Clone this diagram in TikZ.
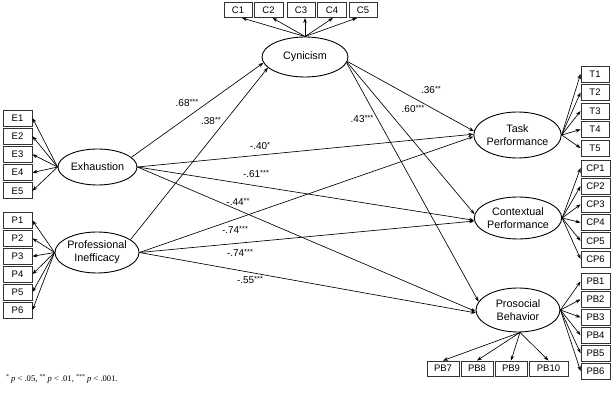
\documentclass[tikz,border=0pt]{standalone}
\usepackage{fontspec}
\setmainfont{Liberation Sans}
\newfontfamily\footserif{Liberation Serif}
\usetikzlibrary{shapes.geometric,arrows.meta,calc}
\newcommand\sig[1]{\raisebox{1.6pt}{\fontsize{7.5pt}{7.5pt}\selectfont #1}}
\begin{document}
\begin{tikzpicture}[x=1pt,y=-1pt,
  lat/.style={draw,line width=0.9pt,ellipse,inner sep=0pt,align=center,
    font=\fontsize{10.8pt}{13pt}\selectfont},
  obs/.style={draw=black!80,line width=0.9pt,rectangle,inner sep=0pt,
    minimum width=29pt,minimum height=16pt,font=\fontsize{9.5pt}{10pt}\selectfont},
  arr/.style={line width=0.65pt,-{Stealth[length=5pt,width=3.6pt]}},
  lbl/.style={inner sep=0pt,font=\fontsize{10pt}{11pt}\selectfont}]
\useasboundingbox (0,0) rectangle (616,403);
% latent variables
\node[lat,minimum width=86pt,minimum height=40pt] (cyn) at (305,57) {Cynicism};
\node[lat,minimum width=79pt,minimum height=36pt] (exh) at (97.5,167) {Exhaustion};
\node[lat,minimum width=80pt,minimum height=41pt] (pin) at (97,252.5) {Professional\\Inefficacy};
\node[lat,minimum width=85pt,minimum height=46pt] (task) at (517.5,135) {Task\\Performance};
\node[lat,minimum width=84pt,minimum height=42pt] (ctx) at (518,218) {Contextual\\Performance};
\node[lat,minimum width=84pt,minimum height=44pt] (pro) at (518,310) {Prosocial\\Behavior};
% C boxes
\node[obs,minimum width=28pt,minimum height=15pt] (C1) at (238,10) {C1};
\node[obs,minimum width=29pt,minimum height=15pt] (C2) at (268.5,10) {C2};
\node[obs,minimum width=28pt,minimum height=15pt] (C3) at (301,10) {C3};
\node[obs,minimum width=29pt,minimum height=15pt] (C4) at (332,10) {C4};
\node[obs,minimum width=28pt,minimum height=15pt] (C5) at (363,10) {C5};
\draw[arr] (cyn.north) -- ([xshift=4pt]C1.south);
\draw[arr] (cyn.north) -- ([xshift=4pt]C2.south);
\draw[arr] (cyn.north) -- ([xshift=4pt]C3.south);
\draw[arr] (cyn.north) -- ([xshift=1pt]C4.south);
\draw[arr] (cyn.north) -- ([xshift=-6pt]C5.south);
% E boxes
\foreach \i in {1,...,5}{
  \node[obs] (E\i) at (17.5,{118+18.2*(\i-1)}) {E\i};
  \draw[arr] (exh.west) -- (E\i.east);
}
% P boxes
\foreach \i in {1,...,6}{
  \node[obs] (P\i) at (17.5,{220.5+17.9*(\i-1)}) {P\i};
  \draw[arr] (pin.west) -- (P\i.east);
}
% T boxes
\foreach \i in {1,...,5}{
  \node[obs,minimum width=28pt] (T\i) at (595,{74+18.5*(\i-1)}) {T\i};
  \draw[arr] (task.east) -- (T\i.west);
}
% CP boxes
\foreach \i in {1,...,6}{
  \node[obs] (CP\i) at (595.5,{168+18.2*(\i-1)}) {CP\i};
  \draw[arr] (ctx.east) -- (CP\i.west);
}
% PB boxes right
\foreach \i in {1,...,6}{
  \node[obs] (PB\i) at (595.5,{281.5+17.9*(\i-1)}) {PB\i};
  \draw[arr] (pro.east) -- (PB\i.west);
}
% PB boxes bottom
\node[obs,minimum width=32pt,minimum height=15pt] (PB7) at (443,368.5) {PB7};
\node[obs,minimum width=32pt,minimum height=15pt] (PB8) at (477,368.5) {PB8};
\node[obs,minimum width=32pt,minimum height=15pt] (PB9) at (511,368.5) {PB9};
\node[obs,minimum width=39pt,minimum height=15pt] (PB10) at (548.5,368.5) {PB10};
\foreach \b in {PB7,PB8,PB9,PB10}{
  \draw[arr] ([xshift=2pt]pro.south) -- (\b.north);
}
% structural paths
\draw[arr] (exh.16) -- (cyn.188);
\draw[arr] (pin.21) -- (cyn.196);
\draw[arr] (exh.east) -- (task.179);
\draw[arr] (exh.east) -- (ctx.183);
\draw[arr] (exh.east) -- (pro.182);
\draw[arr] (pin.east) -- (task.182);
\draw[arr] (pin.east) -- (ctx.184);
\draw[arr] (pin.east) -- (pro.184);
\draw[arr] (cyn.354) -- (task.175);
\draw[arr] (cyn.353) -- (ctx.175);
\draw[arr] (cyn.352) -- (pro.168);
% labels
\node[lbl] (l1) at (187,103) {.68\sig{***}};
\node[lbl] (l2) at (211,121) {.38\sig{**}};
\node[lbl] (l3) at (260,146) {-.40\sig{*}};
\node[lbl] (l4) at (256,174) {-.61\sig{***}};
\node[lbl] (l5) at (238,202) {-.44\sig{**}};
\node[lbl] (l6) at (235,230) {-.74\sig{***}};
\node[lbl] (l7) at (240,253) {-.74\sig{***}};
\node[lbl] (l8) at (250,280) {-.55\sig{***}};
\node[lbl] (l9) at (431,90) {.36\sig{**}};
\node[lbl] (l10) at (413,109) {.60\sig{***}};
\node[lbl] (l11) at (362,119) {.43\sig{***}};
% footnote
\node[anchor=west,inner sep=0pt,font=\footserif\fontsize{8.6pt}{9pt}\selectfont] (fn) at (6,379)
  {\textsuperscript{*}\,\textit{p} < .05, \textsuperscript{**}\,\textit{p} < .01, \textsuperscript{***}\,\textit{p} < .001.};
\end{tikzpicture}
\end{document}
